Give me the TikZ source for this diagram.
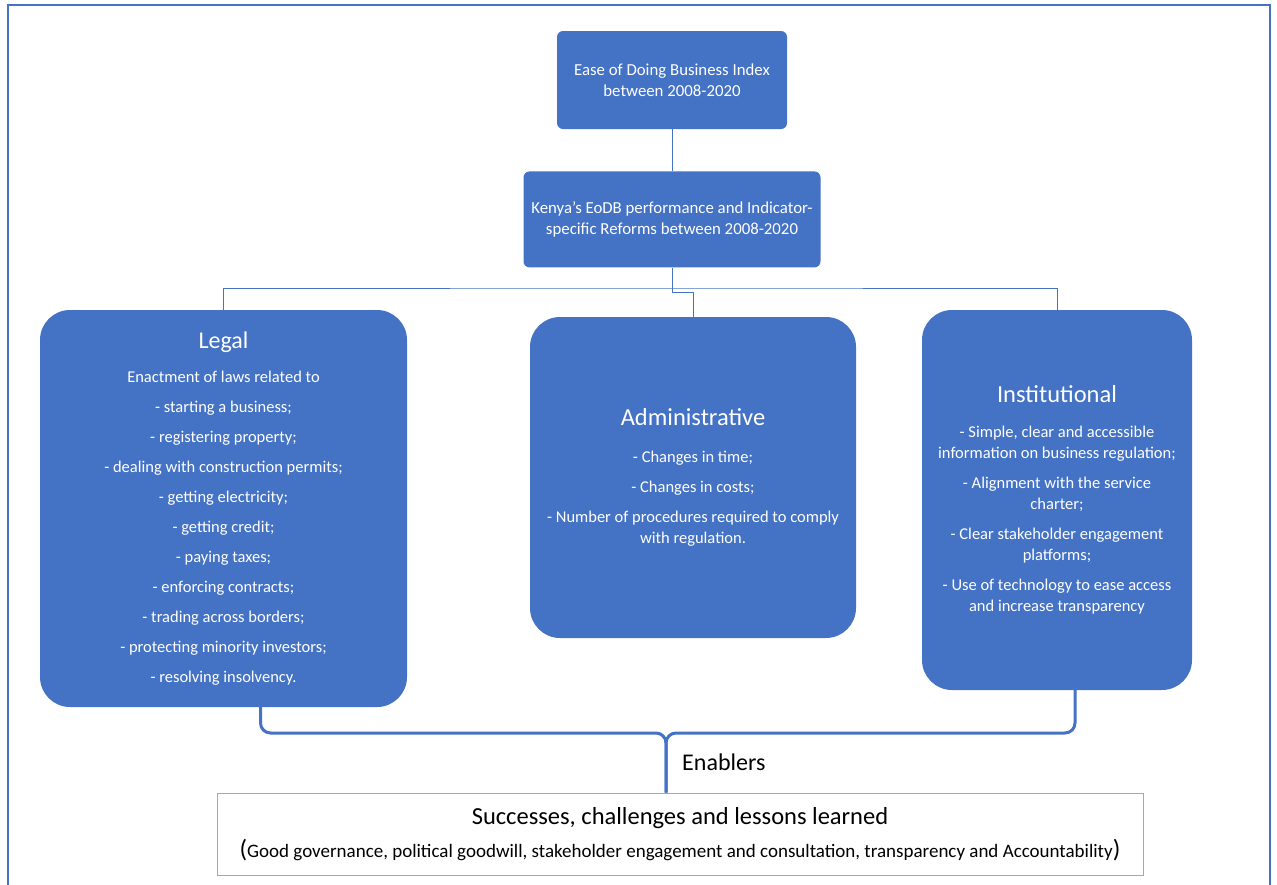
\documentclass[tikz,border=0pt]{standalone}
\usepackage{fontspec}
\setmainfont{Carlito}
\usepackage{tikz}
\usetikzlibrary{positioning,calc}
\definecolor{officeblue}{HTML}{4472C4}
\definecolor{paleblue}{HTML}{8FAADC}

\begin{document}
\begin{tikzpicture}[
    x=1pt, y=-1pt,
    box1/.style={rectangle, fill=officeblue, rounded corners=6pt, align=center, text=white, inner sep=0pt, font=\fontsize{16.8}{21}\selectfont},
    box2/.style={rectangle, fill=officeblue, rounded corners=30pt, align=center, text=white, inner sep=0pt, font=\fontsize{16.5}{21}\selectfont},
    box3/.style={rectangle, draw=paleblue, line width=1pt, align=center, inner sep=0pt, minimum width=926pt, minimum height=82pt},
    link/.style={draw=officeblue, line width=1pt},
    brace/.style={draw=officeblue, line width=3pt, rounded corners=10pt},
    frame/.style={draw=officeblue, line width=2pt}
]
    \useasboundingbox (0,0) rectangle (1277,884);

    % outer frame
    \draw [frame] (8,900) |- (1270,5) -- (1270,900);

    \node [box1, minimum width=230pt, minimum height=98pt] (n1) at (672,80) {Ease of Doing Business Index\\between 2008-2020};
    \node [box1, minimum width=297pt, minimum height=96pt, below=42pt of n1] (n2) {Kenya’s EoDB performance and Indicator-\\specific Reforms between 2008-2020};

    \node [box2, minimum width=367pt, minimum height=397pt] (n3) at (223.5,508.5) {{\fontsize{24}{26}\selectfont Legal}\\[13pt]
        Enactment of laws related to\\[9pt]
        - starting a business;\\[9pt]
        - registering property;\\[9pt]
        - dealing with construction permits;\\[9pt]
        - getting electricity;\\[9pt]
        - getting credit;\\[9pt]
        - paying taxes;\\[9pt]
        - enforcing contracts;\\[9pt]
        - trading across borders;\\[9pt]
        - protecting minority investors;\\[9pt]
        - resolving insolvency.};
    \node [box2, minimum width=326pt, minimum height=321pt] (n4) at (693,477.5) {{\fontsize{24.5}{26}\selectfont Administrative}\\[16pt]
        - Changes in time;\\[9pt]
        - Changes in costs;\\[9pt]
        - Number of procedures required to comply\\
        with regulation.};
    \node [box2, minimum width=270pt, minimum height=380pt] (n5) at (1057,500) {{\fontsize{24.5}{26}\selectfont Institutional}\\[14pt]
        - Simple, clear and accessible\\
        information on business regulation;\\[9pt]
        - Alignment with the service\\
        charter;\\[9pt]
        - Clear stakeholder engagement\\
        platforms;\\[9pt]
        - Use of technology to ease access\\
        and increase transparency};

    \node [box3] (n6) at (680,834) {{\fontsize{24.5}{26}\selectfont Successes, challenges and lessons learned}\\[10pt]
        {\fontsize{19}{22}\selectfont{\fontsize{25}{22}\selectfont(}Good governance, political goodwill, stakeholder engagement and consultation, transparency and Accountability{\fontsize{25}{22}\selectfont)}}};
    \node [anchor=west, inner sep=0pt, font=\fontsize{24}{26}\selectfont] (n7) at (682,762) {Enablers};

    \coordinate (j) at (672,288);
    \coordinate (m) at (666,733);

    \draw [link] (n1) -- (n2);
    \draw [link] (n3) |- (j) -| (n5);
    \draw [link] (n2.south) -- ++(0,25) -| (n4);
    \draw [brace] ($(n3.south)+(37,0)$) |- (m) -- (n6.north -| m);
    \draw [brace] ($(n5.south)+(18,0)$) |- (m) -- (n6.north -| m);
\end{tikzpicture}
\end{document}
